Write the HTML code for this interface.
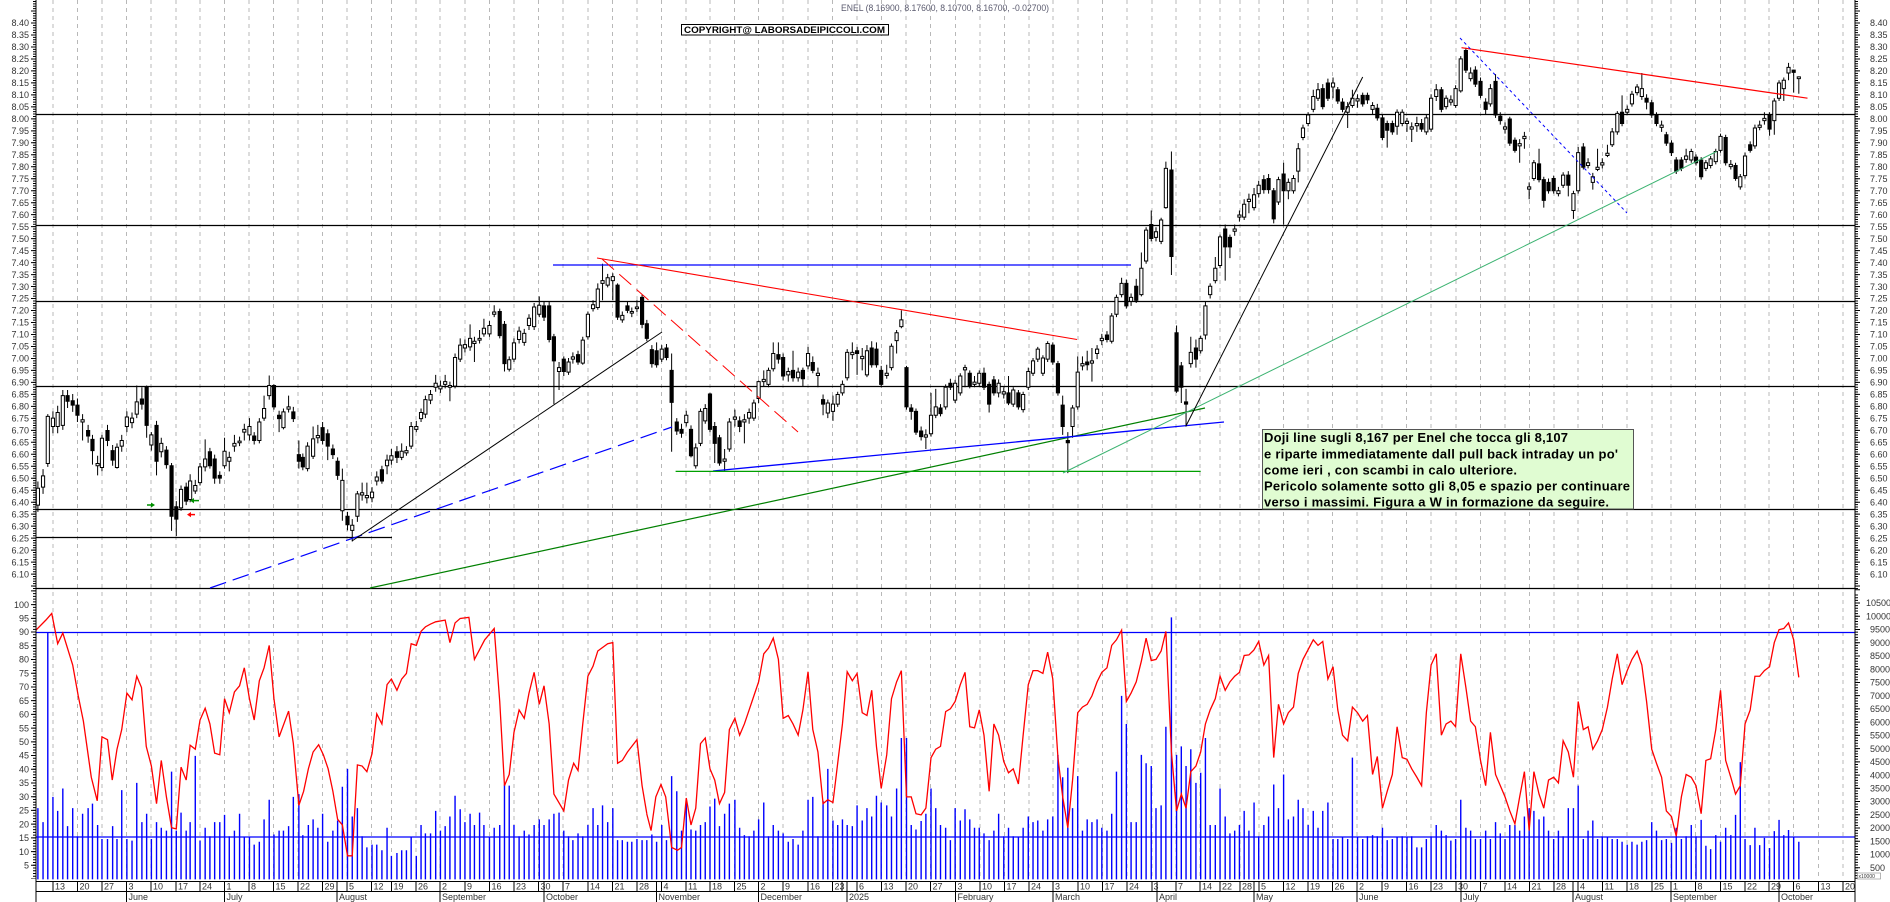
<!DOCTYPE html>
<html><head><meta charset="utf-8"><style>html,body{margin:0;padding:0;background:#fff;overflow:hidden}svg{display:block}</style></head><body>
<svg xmlns="http://www.w3.org/2000/svg" width="1890" height="902" viewBox="0 0 1890 902" font-family="'Liberation Sans', Arial, sans-serif">
<rect width="1890" height="902" fill="#fff"/>
<!-- gridlines -->
<path fill="none" stroke="#b8b8b8" stroke-width="1" stroke-dasharray="4 4" d="M53 0V879M77.5 0V879M102 0V879M126.5 0V879M151 0V879M176 0V879M200 0V879M224.5 0V879M249 0V879M273.5 0V879M298 0V879M322.5 0V879M347 0V879M371.5 0V879M391.5 0V879M416 0V879M440 0V879M465 0V879M489.5 0V879M514 0V879M538.5 0V879M563 0V879M588 0V879M612.5 0V879M637 0V879M661.5 0V879M686 0V879M710 0V879M734.5 0V879M758.5 0V879M783 0V879M808 0V879M832.5 0V879M857 0V879M881.5 0V879M906 0V879M930.5 0V879M955.5 0V879M980 0V879M1004.5 0V879M1029 0V879M1053 0V879M1078 0V879M1102.5 0V879M1127 0V879M1152 0V879M1176 0V879M1200 0V879M1220 0V879M1240 0V879M1259 0V879M1283.5 0V879M1308 0V879M1332.5 0V879M1357 0V879M1382 0V879M1406.5 0V879M1431 0V879M1456 0V879M1480.5 0V879M1505 0V879M1529.5 0V879M1554 0V879M1578 0V879M1602.5 0V879M1627 0V879M1652 0V879M1671 0V879M1695.5 0V879M1720.5 0V879M1745 0V879M1769 0V879M1793.5 0V879M1818.5 0V879M1843 0V879"/>
<!-- horizontal levels -->
<path fill="none" stroke="#000" stroke-width="1.3" d="M36 114.5H1855M36 225.5H1855M36 301.5H1855M36 386.5H1855M36 509.5H1855M36 537.5H392M36 588.5H1855"/>
<path fill="none" stroke="#0000ff" stroke-width="1.3" d="M36 632.5H1855M36 837H1855"/>

<!-- GROUP A -->
<g transform="translate(30,0) scale(0.3954,0.5612)">
<path fill="none" stroke="#0000ff" stroke-width="1.4" vector-effect="non-scaling-stroke" d="M20 1567V1440M33 1567V1465M45 1567V1128M58 1567V1420M70 1567V1445M83 1567V1405M95 1567V1472M108 1567V1440M120 1567V1490M133 1567V1450M147 1567V1440M158 1567V1432M171 1567V1470M182 1567V1495M196 1567V1495M209 1567V1472M220 1567V1495M232 1567V1408M245 1567V1495M258 1567V1498M270 1567V1395M283 1567V1465M295 1567V1450M307 1567V1495M320 1567V1465M332 1567V1475M345 1567V1480M358 1567V1375M370 1567V1480M382 1567V1448M395 1567V1480M405 1567V1465M418 1567V1347M430 1567V1498M443 1567V1475M455 1567V1490M467 1567V1465M480 1567V1465M492 1567V1452M504 1567V1490M517 1567V1480M530 1567V1450M542 1567V1492M555 1567V1492M567 1567V1505M580 1567V1500M592 1567V1460M605 1567V1425M617 1567V1487M630 1567V1480M641 1567V1480M654 1567V1472M666 1567V1420M680 1567V1415M690 1567V1488M704 1567V1470M716 1567V1460M728 1567V1475M740 1567V1450M753 1567V1500M766 1567V1480M778 1567V1462M790 1567V1402M803 1567V1370M815 1567V1455M828 1567V1440M840 1567V1490M852 1567V1510M865 1567V1505M877 1567V1505M890 1567V1515M903 1567V1475M914 1567V1525M928 1567V1520M940 1567V1515M952 1567V1515M964 1567V1492M977 1567V1525M989 1567V1470M1000 1567V1485M1013 1567V1485M1026 1567V1445M1038 1567V1480M1050 1567V1472M1062 1567V1455M1075 1567V1418M1088 1567V1442M1100 1567V1465M1113 1567V1450M1124 1567V1470M1137 1567V1448M1148 1567V1470M1162 1567V1492M1174 1567V1475M1188 1567V1470M1200 1567V1398M1212 1567V1400M1224 1567V1470M1237 1567V1490M1250 1567V1480M1262 1567V1487M1275 1567V1470M1288 1567V1460M1300 1567V1470M1313 1567V1460M1325 1567V1450M1338 1567V1448M1350 1567V1480M1362 1567V1490M1373 1567V1497M1386 1567V1485M1398 1567V1490M1411 1567V1470M1424 1567V1440M1436 1567V1470M1448 1567V1435M1461 1567V1465M1474 1567V1440M1486 1567V1497M1498 1567V1497M1511 1567V1500M1522 1567V1500M1535 1567V1495M1548 1567V1497M1560 1567V1497"/>
<polyline fill="none" stroke="#ff0000" stroke-width="1.3" vector-effect="non-scaling-stroke" points="15,1123 40,1105 55,1093 70,1147 83,1128 108,1185 122,1240 135,1285 155,1385 170,1427 182,1313 196,1318 208,1390 220,1335 232,1300 245,1235 258,1247 270,1205 282,1225 294,1330 307,1365 320,1432 332,1355 345,1420 358,1475 370,1477 382,1367 395,1390 405,1328 418,1335 430,1283 443,1262 455,1290 467,1342 480,1345 492,1245 504,1270 517,1233 530,1222 542,1190 555,1245 567,1283 580,1213 592,1190 605,1150 617,1245 630,1313 654,1267 666,1325 680,1435 692,1410 704,1370 716,1340 730,1327 742,1345 754,1370 766,1410 778,1460 790,1470 803,1525 815,1525 828,1363 840,1365 852,1375 865,1343 877,1272 890,1290 903,1220 914,1210 928,1230 940,1210 952,1200 964,1147 977,1150 989,1125 1000,1117 1013,1112 1026,1108 1050,1105 1062,1145 1075,1110 1088,1102 1110,1100 1124,1175 1150,1140 1174,1120 1188,1250 1200,1400 1212,1380 1224,1305 1237,1265 1250,1280 1262,1235 1275,1198 1288,1255 1300,1222 1313,1290 1325,1415 1350,1445 1362,1390 1375,1360 1386,1373 1398,1290 1411,1205 1424,1187 1436,1160 1461,1147 1474,1145 1486,1360 1498,1355 1511,1340 1522,1330 1535,1318 1548,1400 1560,1450"/>
<path fill="none" stroke="#000" stroke-width="1" vector-effect="non-scaling-stroke" d="M20 858V912M33 836V880M45 738V832M58 733V772M70 723V772M83 695V766M95 695V727M108 702V734M120 710V752M133 738V785M147 757V789M158 775V828M171 812V847M182 775V840M196 757V795M209 793V830M220 790V835M232 775V805M245 733V770M258 735V763M270 687V745M283 690V730M295 687V780M307 770V803M320 750V847M332 780V815M345 795V835M358 825V946M370 893V955M382 865V910M395 860V900M405 845V895M418 855V880M430 825V865M443 783V840M455 798V835M467 810V862M480 840V862M492 780V835M504 805V840M517 775V805M530 778V795M542 755V785M555 745V785M567 770V792M580 745V790M592 705V750M605 669V712M617 685V730M630 732V770M641 728V765M654 705V735M666 725V752M680 785V835M690 808V838M702 788V840M716 760V818M728 757V790M740 752V792M753 765V820M766 792V818M778 815V855M790 835V928M803 912V945M815 925V965M828 875V930M840 860V892M852 860V897M865 868V895M877 840V865M890 830V862M903 810V845M914 800V828M928 795V825M940 790V820M952 795V812M964 752V800M977 750V770M989 728V752M1000 705V745M1013 695V720M1026 668V698M1038 678V700M1050 668V692M1062 680V715M1075 630V692M1088 603V645M1100 605V628M1113 578V625M1124 600V645M1137 588V612M1148 568V600M1162 572V600M1174 544V565M1188 550V603M1200 572V662M1212 635V662M1224 603V645M1237 582V612M1250 586V616M1262 560V588M1275 540V588M1288 528V565M1300 538V572M1313 538V610M1325 595V720M1338 645V695M1350 635V670M1362 638V668M1373 628V648M1386 625V650M1398 600V650M1411 555V605M1424 535V555M1436 505V552M1448 470V535M1461 488V512M1474 487V535M1486 505V570M1498 555V575M1511 538V558M1522 548V565M1535 535V556M1548 525V585M1560 570V608"/>
<path fill="#000" stroke="#000" stroke-width="1" vector-effect="non-scaling-stroke" d="M91 705h8V715h-8ZM104 714h8V722h-8ZM116 722h8V740h-8ZM143 767h8V777h-8ZM154 783h8V803h-8ZM192 767h8V785h-8ZM205 803h8V820h-8ZM279 711h8V720h-8ZM291 689h8V758h-8ZM316 758h8V822h-8ZM341 802h8V828h-8ZM354 830h8V920h-8ZM366 903h8V925h-8ZM391 868h8V893h-8ZM451 805h8V830h-8ZM463 818h8V852h-8ZM476 847h8V852h-8ZM563 777h8V785h-8ZM613 687h8V725h-8ZM626 740h8V746h-8ZM662 734h8V746h-8ZM676 810h8V822h-8ZM686 815h8V832h-8ZM736 762h8V785h-8ZM749 773h8V795h-8ZM762 800h8V810h-8ZM774 822h8V847h-8ZM799 920h8V935h-8ZM886 837h8V857h-8ZM924 805h8V815h-8ZM1184 555h8V598h-8ZM1196 578h8V648h-8ZM1296 545h8V565h-8ZM1309 545h8V605h-8ZM1321 600h8V643h-8ZM1346 640h8V662h-8ZM1382 632h8V645h-8ZM1482 508h8V565h-8ZM1507 545h8V553h-8ZM1544 530h8V578h-8ZM1556 577h8V603h-8Z"/>
<path fill="#fff" stroke="#000" stroke-width="1" vector-effect="non-scaling-stroke" d="M16 870h8V900h-8ZM29 848h8V868h-8ZM41 742h8V826h-8ZM54 745h8V760h-8ZM66 735h8V760h-8ZM79 705h8V758h-8ZM129 748h8V752h-8ZM167 826h8V830h-8ZM178 781h8V833h-8ZM216 797h8V833h-8ZM228 785h8V795h-8ZM241 743h8V760h-8ZM254 745h8V753h-8ZM266 716h8V738h-8ZM303 775h8V793h-8ZM328 790h8V805h-8ZM378 872h8V905h-8ZM401 857h8V890h-8ZM414 865h8V875h-8ZM426 832h8V860h-8ZM439 818h8V832h-8ZM488 804h8V830h-8ZM500 815h8V822h-8ZM513 790h8V795h-8ZM526 786h8V789h-8ZM538 765h8V770h-8ZM551 760h8V775h-8ZM576 752h8V785h-8ZM588 728h8V745h-8ZM601 687h8V705h-8ZM637 734h8V762h-8ZM650 725h8V729h-8ZM698 795h8V835h-8ZM712 782h8V813h-8ZM724 776h8V780h-8ZM786 856h8V910h-8ZM811 936h8V945h-8ZM824 880h8V920h-8ZM836 878h8V882h-8ZM848 883h8V887h-8ZM861 877h8V887h-8ZM873 850h8V857h-8ZM899 820h8V830h-8ZM910 812h8V820h-8ZM936 804h8V815h-8ZM948 803h8V807h-8ZM960 760h8V795h-8ZM973 760h8V765h-8ZM985 735h8V746h-8ZM996 712h8V738h-8ZM1009 703h8V713h-8ZM1022 683h8V690h-8ZM1034 688h8V693h-8ZM1046 680h8V685h-8ZM1058 687h8V690h-8ZM1071 637h8V688h-8ZM1084 615h8V640h-8ZM1096 614h8V620h-8ZM1109 603h8V618h-8ZM1120 608h8V612h-8ZM1133 603h8V606h-8ZM1144 585h8V595h-8ZM1158 580h8V595h-8ZM1170 556h8V560h-8ZM1208 641h8V658h-8ZM1220 611h8V640h-8ZM1233 590h8V605h-8ZM1246 594h8V610h-8ZM1258 567h8V580h-8ZM1271 547h8V582h-8ZM1284 544h8V560h-8ZM1334 655h8V662h-8ZM1358 645h8V663h-8ZM1369 636h8V640h-8ZM1394 606h8V647h-8ZM1407 560h8V600h-8ZM1420 543h8V550h-8ZM1432 515h8V548h-8ZM1444 500h8V505h-8ZM1457 495h8V508h-8ZM1470 493h8V500h-8ZM1494 562h8V570h-8ZM1518 555h8V558h-8ZM1531 547h8V550h-8Z"/>
</g>

<!-- GROUP B -->
<g transform="translate(640,0) scale(0.3954,0.5612)">
<path fill="none" stroke="#0000ff" stroke-width="1.4" vector-effect="non-scaling-stroke" d="M30 1567V1487M42 1567V1500M55 1567V1470M67 1567V1497M80 1567V1383M93 1567V1410M105 1567V1480M117 1567V1425M129 1567V1478M141 1567V1480M153 1567V1470M165 1567V1465M177 1567V1437M189 1567V1423M201 1567V1472M214 1567V1450M226 1567V1432M240 1567V1425M252 1567V1475M264 1567V1488M276 1567V1490M288 1567V1480M300 1567V1460M313 1567V1430M325 1567V1490M337 1567V1470M350 1567V1480M362 1567V1485M375 1567V1500M387 1567V1495M400 1567V1505M412 1567V1480M425 1567V1425M437 1567V1420M450 1567V1490M463 1567V1427M475 1567V1370M488 1567V1462M500 1567V1470M512 1567V1460M524 1567V1470M537 1567V1472M549 1567V1435M562 1567V1462M574 1567V1440M586 1567V1455M598 1567V1418M610 1567V1430M624 1567V1435M636 1567V1455M649 1567V1405M661 1567V1315M674 1567V1315M686 1567V1470M698 1567V1478M711 1567V1463M723 1567V1450M736 1567V1405M748 1567V1440M760 1567V1470M773 1567V1475M785 1567V1497M797 1567V1440M810 1567V1462M822 1567V1442M834 1567V1460M846 1567V1475M858 1567V1475M870 1567V1485M883 1567V1497M895 1567V1480M907 1567V1450M920 1567V1490M932 1567V1475M944 1567V1490M957 1567V1492M969 1567V1475M982 1567V1455M994 1567V1465M1006 1567V1462M1019 1567V1480M1031 1567V1460M1044 1567V1455M1057 1567V1345M1069 1567V1385M1082 1567V1368M1094 1567V1440M1107 1567V1383M1119 1567V1480M1131 1567V1460M1143 1567V1465M1156 1567V1460M1168 1567V1475M1181 1567V1480M1193 1567V1450M1205 1567V1375M1218 1567V1240M1230 1567V1290M1242 1567V1465M1255 1567V1465M1268 1567V1345M1280 1567V1360M1293 1567V1365M1305 1567V1440M1318 1567V1435M1330 1567V1295M1344 1567V1100M1357 1567V1345M1369 1567V1330M1381 1567V1365M1393 1567V1335M1406 1567V1395M1418 1567V1377M1430 1567V1315M1442 1567V1470M1455 1567V1470M1467 1567V1405M1480 1567V1455M1492 1567V1485M1504 1567V1480M1516 1567V1470M1528 1567V1445M1540 1567V1480M1553 1567V1430"/>
<polyline fill="none" stroke="#ff0000" stroke-width="1.3" vector-effect="non-scaling-stroke" points="17,1450 28,1480 40,1420 53,1398 65,1420 80,1510 95,1515 105,1510 117,1422 129,1470 141,1440 153,1325 165,1315 177,1370 189,1390 201,1432 214,1412 226,1300 240,1280 252,1310 264,1290 276,1265 288,1240 300,1215 313,1165 325,1155 337,1137 350,1175 362,1280 375,1275 387,1290 400,1310 412,1265 425,1197 437,1300 450,1340 463,1432 475,1425 488,1430 500,1360 512,1290 524,1197 537,1213 549,1200 562,1270 574,1275 586,1230 598,1330 610,1405 624,1345 636,1245 649,1215 661,1195 674,1420 686,1420 698,1450 711,1452 723,1440 736,1350 748,1335 760,1330 773,1268 785,1263 797,1250 810,1220 822,1198 834,1295 846,1297 858,1265 870,1310 883,1410 895,1290 907,1310 920,1357 932,1377 944,1370 957,1397 969,1310 982,1220 994,1195 1006,1195 1019,1200 1031,1162 1044,1210 1057,1350 1069,1420 1082,1475 1094,1390 1107,1270 1119,1260 1131,1255 1143,1240 1156,1215 1168,1198 1181,1190 1193,1150 1205,1140 1218,1123 1230,1250 1242,1235 1255,1215 1268,1178 1280,1137 1293,1177 1305,1175 1318,1160 1330,1125 1344,1340 1357,1445 1369,1415 1381,1440 1393,1375 1406,1365 1418,1340 1430,1290 1442,1265 1455,1245 1467,1205 1480,1230 1492,1215 1504,1205 1516,1198 1528,1168 1540,1167 1553,1158"/>
<path fill="none" stroke="#000" stroke-width="1" vector-effect="non-scaling-stroke" d="M30 615V655M42 610V655M55 615V645M67 613V642M80 630V805M93 745V775M105 755V780M117 732V760M129 758V815M141 790V835M153 728V795M165 720V755M177 700V770M189 752V825M201 775V830M214 800V840M226 745V805M240 730V760M252 742V770M264 738V790M276 728V755M288 712V750M300 678V718M313 660V688M325 655V690M337 610V662M350 610V648M362 630V678M375 655V680M387 625V680M400 655V680M412 655V688M425 618V658M437 635V665M450 655V690M463 703V740M475 712V745M488 705V750M500 698V725M512 678V705M524 622V678M537 610V640M549 618V668M562 620V660M574 615V672M586 608V655M598 610V655M610 652V690M624 650V675M636 612V660M649 588V630M661 553V585M674 652V730M686 720V748M698 728V775M711 760V785M723 765V800M736 700V778M748 693V745M760 720V742M773 685V730M785 675V695M797 677V718M810 665V705M822 650V690M834 660V692M846 670V690M858 660V688M870 655V695M883 680V735M895 670V705M907 676V708M920 690V710M932 670V722M944 690V725M957 695V730M969 698V735M982 655V695M994 638V670M1006 618V645M1019 633V670M1031 608V645M1044 610V650M1057 643V705M1069 705V775M1082 770V843M1094 722V780M1107 635V730M1119 635V660M1131 625V660M1143 620V680M1156 615V640M1168 595V615M1181 590V610M1193 558V612M1205 525V565M1218 495V530M1230 498V550M1242 523V545M1255 497V540M1268 450V528M1280 405V470M1293 375V430M1305 405V430M1318 388V435M1330 288V372M1344 270V490M1357 580V700M1369 645V718M1381 693V760M1393 600V655M1406 605V655M1418 598V630M1430 538V605M1442 505V532M1455 458V505M1467 418V478M1480 400V500M1492 418V460M1504 400V420M1516 375V395M1528 355V392M1540 345V380M1553 335V375"/>
<path fill="#000" stroke="#000" stroke-width="1" vector-effect="non-scaling-stroke" d="M26 623h8V648h-8ZM38 625h8V650h-8ZM63 620h8V637h-8ZM76 660h8V717h-8ZM89 752h8V768h-8ZM101 765h8V772h-8ZM125 765h8V812h-8ZM173 702h8V765h-8ZM185 760h8V790h-8ZM197 780h8V825h-8ZM248 750h8V760h-8ZM346 632h8V640h-8ZM358 637h8V670h-8ZM383 660h8V673h-8ZM408 660h8V675h-8ZM433 646h8V660h-8ZM459 712h8V720h-8ZM545 625h8V630h-8ZM582 620h8V650h-8ZM594 622h8V650h-8ZM606 660h8V685h-8ZM670 655h8V725h-8ZM682 727h8V733h-8ZM694 733h8V770h-8ZM707 768h8V778h-8ZM756 727h8V737h-8ZM781 683h8V690h-8ZM830 665h8V688h-8ZM866 665h8V690h-8ZM879 685h8V720h-8ZM891 677h8V700h-8ZM928 700h8V718h-8ZM953 700h8V725h-8ZM1040 615h8V645h-8ZM1053 648h8V700h-8ZM1065 722h8V760h-8ZM1078 785h8V789h-8ZM1127 645h8V650h-8ZM1177 597h8V605h-8ZM1226 505h8V545h-8ZM1251 510h8V535h-8ZM1289 400h8V425h-8ZM1340 303h8V457h-8ZM1353 593h8V697h-8ZM1365 652h8V690h-8ZM1377 716h8V720h-8ZM1402 620h8V640h-8ZM1476 408h8V440h-8ZM1488 423h8V440h-8Z"/>
<path fill="#fff" stroke="#000" stroke-width="1" vector-effect="non-scaling-stroke" d="M51 622h8V640h-8ZM113 740h8V753h-8ZM137 798h8V830h-8ZM149 733h8V790h-8ZM161 728h8V750h-8ZM210 818h8V822h-8ZM222 752h8V800h-8ZM236 743h8V747h-8ZM260 748h8V752h-8ZM272 735h8V745h-8ZM284 718h8V745h-8ZM296 680h8V710h-8ZM309 676h8V680h-8ZM321 660h8V685h-8ZM333 630h8V657h-8ZM371 662h8V668h-8ZM396 663h8V673h-8ZM421 630h8V652h-8ZM446 665h8V669h-8ZM471 718h8V736h-8ZM484 720h8V733h-8ZM496 703h8V720h-8ZM508 685h8V700h-8ZM520 628h8V673h-8ZM533 628h8V632h-8ZM558 635h8V639h-8ZM570 625h8V668h-8ZM620 665h8V669h-8ZM632 617h8V655h-8ZM645 593h8V607h-8ZM657 570h8V582h-8ZM719 775h8V779h-8ZM732 740h8V773h-8ZM744 725h8V740h-8ZM769 690h8V725h-8ZM793 683h8V713h-8ZM806 670h8V700h-8ZM818 655h8V659h-8ZM842 681h8V685h-8ZM854 665h8V683h-8ZM903 683h8V700h-8ZM916 698h8V702h-8ZM940 695h8V720h-8ZM965 703h8V730h-8ZM978 662h8V690h-8ZM990 643h8V665h-8ZM1002 622h8V640h-8ZM1015 638h8V665h-8ZM1027 612h8V640h-8ZM1090 727h8V760h-8ZM1103 663h8V725h-8ZM1115 648h8V652h-8ZM1139 643h8V647h-8ZM1152 622h8V630h-8ZM1164 603h8V607h-8ZM1189 563h8V608h-8ZM1201 530h8V560h-8ZM1214 505h8V525h-8ZM1238 530h8V537h-8ZM1264 478h8V525h-8ZM1276 410h8V465h-8ZM1301 413h8V423h-8ZM1314 392h8V430h-8ZM1326 300h8V370h-8ZM1389 628h8V648h-8ZM1414 603h8V625h-8ZM1426 545h8V597h-8ZM1438 510h8V525h-8ZM1451 478h8V500h-8ZM1463 422h8V473h-8ZM1500 408h8V412h-8ZM1512 383h8V387h-8ZM1524 364h8V387h-8ZM1536 355h8V359h-8ZM1549 347h8V370h-8Z"/>
</g>

<!-- GROUP C -->
<g transform="translate(1250,0) scale(0.3954,0.5612)">
<path fill="none" stroke="#0000ff" stroke-width="1.4" vector-effect="non-scaling-stroke" d="M22 1567V1490M35 1567V1470M47 1567V1455M60 1567V1398M72 1567V1440M85 1567V1380M97 1567V1460M110 1567V1455M122 1567V1425M134 1567V1440M147 1567V1470M160 1567V1445M172 1567V1475M184 1567V1445M197 1567V1430M210 1567V1495M222 1567V1495M234 1567V1492M247 1567V1495M259 1567V1350M272 1567V1492M285 1567V1495M297 1567V1490M310 1567V1488M322 1567V1490M335 1567V1475M347 1567V1497M360 1567V1495M372 1567V1492M385 1567V1490M397 1567V1492M409 1567V1490M422 1567V1510M434 1567V1510M446 1567V1495M458 1567V1490M471 1567V1470M484 1567V1480M496 1567V1488M508 1567V1498M520 1567V1495M533 1567V1425M546 1567V1475M558 1567V1480M570 1567V1495M583 1567V1495M596 1567V1480M608 1567V1495M621 1567V1465M633 1567V1485M645 1567V1495M657 1567V1470M670 1567V1470M682 1567V1480M694 1567V1455M706 1567V1440M718 1567V1445M731 1567V1460M743 1567V1455M755 1567V1480M768 1567V1495M780 1567V1480M792 1567V1490M805 1567V1440M818 1567V1440M830 1567V1400M843 1567V1495M855 1567V1480M867 1567V1462M879 1567V1495M891 1567V1490M904 1567V1492M916 1567V1495M929 1567V1495M941 1567V1500M954 1567V1505M966 1567V1500M979 1567V1505M991 1567V1500M1003 1567V1497M1016 1567V1465M1028 1567V1480M1041 1567V1497M1053 1567V1495M1066 1567V1502M1078 1567V1475M1091 1567V1495M1103 1567V1490M1116 1567V1470M1128 1567V1490M1141 1567V1461M1153 1567V1507M1165 1567V1513M1178 1567V1488M1190 1567V1500M1203 1567V1475M1216 1567V1488M1228 1567V1452M1240 1567V1358M1252 1567V1495M1265 1567V1506M1277 1567V1475M1289 1567V1506M1301 1567V1493M1314 1567V1511M1326 1567V1481M1338 1567V1461M1350 1567V1488M1362 1567V1479M1375 1567V1491M1388 1567V1500"/>
<polyline fill="none" stroke="#ff0000" stroke-width="1.3" vector-effect="non-scaling-stroke" points="10,1158 22,1143 35,1185 47,1168 60,1350 72,1255 85,1290 97,1270 110,1260 122,1200 134,1175 160,1140 172,1150 184,1143 197,1210 210,1188 222,1265 234,1310 247,1320 259,1260 272,1270 285,1285 297,1275 310,1380 322,1348 335,1440 347,1410 360,1380 372,1295 385,1350 397,1353 409,1370 422,1385 434,1400 446,1270 458,1185 471,1165 484,1310 496,1290 508,1285 520,1295 533,1165 546,1225 558,1285 570,1295 583,1355 596,1400 608,1305 621,1380 633,1400 645,1420 657,1445 670,1468 682,1420 694,1375 706,1480 718,1375 731,1415 743,1440 755,1390 768,1385 780,1395 792,1320 805,1340 818,1385 830,1250 843,1300 855,1295 867,1335 879,1320 891,1300 904,1260 916,1210 929,1165 941,1220 954,1195 966,1175 979,1160 991,1185 1003,1250 1016,1335 1028,1360 1041,1385 1053,1445 1066,1455 1078,1490 1091,1420 1103,1380 1116,1385 1128,1400 1141,1450 1153,1355 1165,1352 1178,1300 1190,1230 1203,1355 1216,1385 1228,1415 1240,1400 1252,1290 1265,1265 1277,1205 1289,1205 1301,1195 1314,1188 1326,1145 1338,1122 1350,1120 1362,1110 1375,1140 1388,1207"/>
<path fill="none" stroke="#000" stroke-width="1" vector-effect="non-scaling-stroke" d="M22 322V352M35 312V345M47 310V345M60 335V398M72 315V365M85 290V400M97 318V355M110 312V345M122 255V325M134 222V250M147 200V225M160 160V200M172 148V180M184 150V195M197 140V180M210 138V175M222 155V185M234 175V200M247 182V228M259 160V192M272 168V192M285 165V190M297 165V185M310 182V205M322 185V215M335 205V250M347 215V263M360 215V240M372 195V240M385 195V225M397 210V235M409 218V253M422 208V235M434 212V235M446 205V240M458 168V235M471 150V180M484 155V200M496 170V195M508 170V188M520 152V192M533 100V165M546 85V130M558 120V145M570 118V155M583 138V175M596 175V205M608 150V190M621 132V210M633 200V222M645 218V238M657 208V260M670 245V272M682 248V290M694 235V265M706 325V355M718 285V322M731 265V325M743 315V370M755 318V345M768 313V345M780 333V350M792 307V335M805 305V350M818 340V390M830 262V345M843 255V302M855 282V300M867 308V338M879 265V305M891 282V300M904 258V280M916 228V262M929 198V240M941 170V225M954 188V205M966 162V190M979 150V170M991 130V178M1003 168V195M1016 178V210M1028 200V225M1041 215V235M1053 235V260M1066 250V278M1078 280V310M1091 280V305M1103 265V290M1116 265V290M1128 275V295M1141 280V320M1153 285V305M1165 278V300M1178 265V293M1190 238V272M1203 240V295M1216 285V302M1228 290V322M1240 310V338M1252 272V318M1265 252V272M1277 222V265M1289 215V232M1301 200V222M1314 200V242M1326 175V240M1338 143V180M1350 138V180M1362 112V143M1375 124V165M1388 136V167"/>
<path fill="#000" stroke="#000" stroke-width="1" vector-effect="non-scaling-stroke" d="M31 320h8V338h-8ZM43 318h8V338h-8ZM56 340h8V390h-8ZM81 310h8V340h-8ZM180 158h8V190h-8ZM193 148h8V175h-8ZM218 160h8V180h-8ZM230 182h8V195h-8ZM281 170h8V185h-8ZM293 170h8V178h-8ZM318 193h8V210h-8ZM331 210h8V245h-8ZM343 220h8V232h-8ZM356 220h8V235h-8ZM430 220h8V230h-8ZM480 160h8V195h-8ZM542 90h8V125h-8ZM566 125h8V150h-8ZM579 145h8V170h-8ZM592 182h8V195h-8ZM617 145h8V205h-8ZM629 207h8V215h-8ZM653 212h8V255h-8ZM666 250h8V268h-8ZM727 292h8V320h-8ZM739 320h8V357h-8ZM751 325h8V340h-8ZM764 318h8V340h-8ZM801 312h8V330h-8ZM839 262h8V298h-8ZM937 200h8V220h-8ZM999 175h8V182h-8ZM1012 183h8V205h-8ZM1024 205h8V220h-8ZM1049 240h8V255h-8ZM1062 255h8V272h-8ZM1074 285h8V305h-8ZM1087 285h8V300h-8ZM1124 280h8V290h-8ZM1137 285h8V315h-8ZM1199 245h8V290h-8ZM1224 295h8V318h-8ZM1261 258h8V268h-8ZM1310 205h8V230h-8ZM1371 125h8V129h-8Z"/>
<path fill="#fff" stroke="#000" stroke-width="1" vector-effect="non-scaling-stroke" d="M18 330h8V345h-8ZM68 320h8V360h-8ZM93 325h8V340h-8ZM106 318h8V340h-8ZM118 265h8V305h-8ZM130 228h8V245h-8ZM143 205h8V220h-8ZM156 172h8V195h-8ZM168 160h8V175h-8ZM206 148h8V155h-8ZM243 190h8V200h-8ZM255 175h8V188h-8ZM268 176h8V180h-8ZM306 188h8V195h-8ZM368 200h8V225h-8ZM381 200h8V220h-8ZM393 216h8V220h-8ZM405 226h8V230h-8ZM418 220h8V224h-8ZM442 210h8V235h-8ZM454 175h8V230h-8ZM467 160h8V172h-8ZM492 175h8V190h-8ZM504 178h8V182h-8ZM516 158h8V188h-8ZM529 105h8V162h-8ZM554 130h8V140h-8ZM604 158h8V185h-8ZM641 226h8V230h-8ZM678 256h8V260h-8ZM690 243h8V247h-8ZM702 333h8V337h-8ZM714 290h8V318h-8ZM776 340h8V345h-8ZM788 312h8V330h-8ZM814 345h8V375h-8ZM826 272h8V340h-8ZM851 290h8V295h-8ZM863 315h8V325h-8ZM875 298h8V302h-8ZM887 290h8V294h-8ZM900 273h8V277h-8ZM912 235h8V258h-8ZM925 202h8V235h-8ZM950 195h8V200h-8ZM962 168h8V185h-8ZM975 155h8V165h-8ZM987 158h8V172h-8ZM1037 223h8V227h-8ZM1099 278h8V284h-8ZM1112 270h8V285h-8ZM1149 290h8V300h-8ZM1161 283h8V295h-8ZM1174 270h8V288h-8ZM1186 243h8V268h-8ZM1212 293h8V297h-8ZM1236 315h8V333h-8ZM1248 278h8V313h-8ZM1273 228h8V260h-8ZM1285 223h8V227h-8ZM1297 211h8V215h-8ZM1322 180h8V215h-8ZM1334 148h8V175h-8ZM1346 143h8V158h-8ZM1358 120h8V130h-8ZM1384 137h8V140h-8Z"/>
</g>

<!-- trend lines -->
<g fill="none">
<path d="M553 265H1131" stroke="#0000ff" stroke-width="1.2"/>
<path d="M597 258L1077 339.5" stroke="#ff0000" stroke-width="1.1"/>
<path d="M602 259L798 432" stroke="#ff0000" stroke-width="1" stroke-dasharray="16 7"/>
<path d="M210 588L672 427" stroke="#0000ff" stroke-width="1.2" stroke-dasharray="17 7"/>
<path d="M352 541L662 332" stroke="#000" stroke-width="1"/>
<path d="M370 588L1205 408" stroke="#008000" stroke-width="1.2"/>
<path d="M713 471L1224 422" stroke="#0000ff" stroke-width="1.3"/>
<path d="M675.6 471.4H1200.7" stroke="#00a000" stroke-width="1.2"/>
<path d="M1063 473L1716.6 151.5" stroke="#3cb371" stroke-width="1"/>
<path d="M1185.7 426.5L1362.7 77" stroke="#000" stroke-width="1"/>
<path d="M1461.5 47.7L1807.5 98.2" stroke="#ff0000" stroke-width="1.2"/>
<path d="M1460 38L1627 213" stroke="#0000ff" stroke-width="1" stroke-dasharray="3 3"/>
</g>
<!-- arrows -->
<path d="M147 505H152" stroke="#009000" stroke-width="1.5"/><path d="M151 502.5L155 505L151 507.5Z" fill="#009000"/>
<path d="M190 514.6H195" stroke="#ff0000" stroke-width="1.5"/><path d="M191 512L187 514.6L191 517.2Z" fill="#ff0000"/>
<path d="M193 500.6H199" stroke="#009000" stroke-width="1.5"/><path d="M194 498L190 500.6L194 503.2Z" fill="#009000"/>

<!-- axes -->
<path d="M36 0V902M1855 0V902M36 881.5H1855M36 891.5H1855" stroke="#000" stroke-width="1" fill="none"/>
<!-- rulers -->
<g stroke="#000" fill="none">
<path d="M34.5 0.94V589" stroke-width="3" stroke-dasharray="1 1.396"/>
<path d="M33.5 10.52V589" stroke-width="5" stroke-dasharray="1 10.98"/>
<path d="M34.5 590.4V879" stroke-width="3" stroke-dasharray="1 1.744"/>
<path d="M33.5 590.4V879" stroke-width="5" stroke-dasharray="1 12.72"/>
<path d="M1856.5 0.94V589" stroke-width="3" stroke-dasharray="1 1.396"/>
<path d="M1857.5 10.52V589" stroke-width="5" stroke-dasharray="1 10.98"/>
<path d="M1856.5 594.56V879" stroke-width="3" stroke-dasharray="1 1.647"/>
<path d="M1857.5 589.3V879" stroke-width="5" stroke-dasharray="1 12.235"/>
</g>
<!-- date ticks -->
<path stroke="#000" stroke-width="1" fill="none" d="M53 881V891M77.5 881V891M102 881V891M126.5 881V891M151 881V891M176 881V891M200 881V891M224.5 881V891M249 881V891M273.5 881V891M298 881V891M322.5 881V891M347 881V891M371.5 881V891M391.5 881V891M416 881V891M440 881V891M465 881V891M489.5 881V891M514 881V891M538.5 881V891M563 881V891M588 881V891M612.5 881V891M637 881V891M661.5 881V891M686 881V891M710 881V891M734.5 881V891M758.5 881V891M783 881V891M808 881V891M832.5 881V891M842 881V891M857 881V891M881.5 881V891M906 881V891M930.5 881V891M955.5 881V891M980 881V891M1004.5 881V891M1029 881V891M1053 881V891M1078 881V891M1102.5 881V891M1127 881V891M1152 881V891M1176 881V891M1200 881V891M1220 881V891M1240 881V891M1259 881V891M1283.5 881V891M1308 881V891M1332.5 881V891M1357 881V891M1382 881V891M1406.5 881V891M1431 881V891M1456 881V891M1480.5 881V891M1505 881V891M1529.5 881V891M1554 881V891M1578 881V891M1602.5 881V891M1627 881V891M1652 881V891M1671 881V891M1695.5 881V891M1720.5 881V891M1745 881V891M1769 881V891M1793.5 881V891M1818.5 881V891M1843 881V891M126.5 881V902M224.5 881V902M337 881V902M440 881V902M544 881V902M656.5 881V902M758.5 881V902M847 881V902M955.5 881V902M1053 881V902M1157 881V902M1254 881V902M1357 881V902M1461 881V902M1573 881V902M1671 881V902M1779 881V902"/>

<g font-size="9" fill="#333">
<text x="55" y="889.5">13</text><text x="79.5" y="889.5">20</text><text x="104" y="889.5">27</text><text x="128.5" y="889.5">3</text><text x="153" y="889.5">10</text><text x="178" y="889.5">17</text><text x="202" y="889.5">24</text><text x="226.5" y="889.5">1</text><text x="251" y="889.5">8</text><text x="275.5" y="889.5">15</text><text x="300" y="889.5">22</text><text x="324.5" y="889.5">29</text><text x="349" y="889.5">5</text><text x="373.5" y="889.5">12</text><text x="393.5" y="889.5">19</text><text x="418" y="889.5">26</text><text x="442" y="889.5">2</text><text x="467" y="889.5">9</text><text x="491.5" y="889.5">16</text><text x="516" y="889.5">23</text><text x="540.5" y="889.5">30</text><text x="565" y="889.5">7</text><text x="590" y="889.5">14</text><text x="614.5" y="889.5">21</text><text x="639" y="889.5">28</text><text x="663.5" y="889.5">4</text><text x="688" y="889.5">11</text><text x="712" y="889.5">18</text><text x="736.5" y="889.5">25</text><text x="760.5" y="889.5">2</text><text x="785" y="889.5">9</text><text x="810" y="889.5">16</text><text x="834.5" y="889.5">23</text><text x="859" y="889.5">6</text><text x="883.5" y="889.5">13</text><text x="908" y="889.5">20</text><text x="932.5" y="889.5">27</text><text x="957.5" y="889.5">3</text><text x="982" y="889.5">10</text><text x="1006.5" y="889.5">17</text><text x="1031" y="889.5">24</text><text x="1055" y="889.5">3</text><text x="1080" y="889.5">10</text><text x="1104.5" y="889.5">17</text><text x="1129" y="889.5">24</text><text x="1153.5" y="889.5">3</text><text x="1178" y="889.5">7</text><text x="1202" y="889.5">14</text><text x="1222" y="889.5">22</text><text x="1242" y="889.5">28</text><text x="1261" y="889.5">5</text><text x="1285.5" y="889.5">12</text><text x="1310" y="889.5">19</text><text x="1334.5" y="889.5">26</text><text x="1359" y="889.5">2</text><text x="1384" y="889.5">9</text><text x="1408.5" y="889.5">16</text><text x="1433" y="889.5">23</text><text x="1458" y="889.5">30</text><text x="1482.5" y="889.5">7</text><text x="1507" y="889.5">14</text><text x="1531.5" y="889.5">21</text><text x="1556" y="889.5">28</text><text x="1580" y="889.5">4</text><text x="1604.5" y="889.5">11</text><text x="1629" y="889.5">18</text><text x="1654" y="889.5">25</text><text x="1673" y="889.5">1</text><text x="1697.5" y="889.5">8</text><text x="1722.5" y="889.5">15</text><text x="1747" y="889.5">22</text><text x="1771" y="889.5">29</text><text x="1795.5" y="889.5">6</text><text x="1820.5" y="889.5">13</text><text x="1845" y="889.5">20</text>
<text x="128.5" y="900">June</text><text x="226.5" y="900">July</text><text x="339" y="900">August</text><text x="442" y="900">September</text><text x="546" y="900">October</text><text x="658.5" y="900">November</text><text x="760.5" y="900">December</text><text x="849" y="900">2025</text><text x="957.5" y="900">February</text><text x="1055" y="900">March</text><text x="1159" y="900">April</text><text x="1256" y="900">May</text><text x="1359" y="900">June</text><text x="1463" y="900">July</text><text x="1575" y="900">August</text><text x="1673" y="900">September</text><text x="1781" y="900">October</text>
</g>

<!-- left price labels -->
<g font-size="9" fill="#333" text-anchor="end">
<text x="29" y="26.2">8.40</text><text x="29" y="38.2">8.35</text><text x="29" y="50.2">8.30</text><text x="29" y="62.1">8.25</text><text x="29" y="74.1">8.20</text><text x="29" y="86.1">8.15</text><text x="29" y="98.1">8.10</text><text x="29" y="110.1">8.05</text><text x="29" y="122">8.00</text><text x="29" y="134">7.95</text><text x="29" y="146">7.90</text><text x="29" y="158">7.85</text><text x="29" y="170">7.80</text><text x="29" y="181.9">7.75</text><text x="29" y="193.9">7.70</text><text x="29" y="205.9">7.65</text><text x="29" y="217.9">7.60</text><text x="29" y="229.9">7.55</text><text x="29" y="241.8">7.50</text><text x="29" y="253.8">7.45</text><text x="29" y="265.8">7.40</text><text x="29" y="277.8">7.35</text><text x="29" y="289.8">7.30</text><text x="29" y="301.7">7.25</text><text x="29" y="313.7">7.20</text><text x="29" y="325.7">7.15</text><text x="29" y="337.7">7.10</text><text x="29" y="349.7">7.05</text><text x="29" y="361.6">7.00</text><text x="29" y="373.6">6.95</text><text x="29" y="385.6">6.90</text><text x="29" y="397.6">6.85</text><text x="29" y="409.6">6.80</text><text x="29" y="421.5">6.75</text><text x="29" y="433.5">6.70</text><text x="29" y="445.5">6.65</text><text x="29" y="457.5">6.60</text><text x="29" y="469.5">6.55</text><text x="29" y="481.4">6.50</text><text x="29" y="493.4">6.45</text><text x="29" y="505.4">6.40</text><text x="29" y="517.4">6.35</text><text x="29" y="529.4">6.30</text><text x="29" y="541.3">6.25</text><text x="29" y="553.3">6.20</text><text x="29" y="565.3">6.15</text><text x="29" y="577.3">6.10</text>
<text x="29" y="607.8">100</text><text x="29" y="621.5">95</text><text x="29" y="635.2">90</text><text x="29" y="649">85</text><text x="29" y="662.7">80</text><text x="29" y="676.4">75</text><text x="29" y="690.1">70</text><text x="29" y="703.8">65</text><text x="29" y="717.6">60</text><text x="29" y="731.3">55</text><text x="29" y="745">50</text><text x="29" y="758.7">45</text><text x="29" y="772.4">40</text><text x="29" y="786.2">35</text><text x="29" y="799.9">30</text><text x="29" y="813.6">25</text><text x="29" y="827.3">20</text><text x="29" y="841">15</text><text x="29" y="854.8">10</text><text x="29" y="868.5">5</text>
</g>
<!-- right labels -->
<g font-size="9" fill="#333">
<text x="1870" y="26.2">8.40</text><text x="1870" y="38.2">8.35</text><text x="1870" y="50.2">8.30</text><text x="1870" y="62.1">8.25</text><text x="1870" y="74.1">8.20</text><text x="1870" y="86.1">8.15</text><text x="1870" y="98.1">8.10</text><text x="1870" y="110.1">8.05</text><text x="1870" y="122">8.00</text><text x="1870" y="134">7.95</text><text x="1870" y="146">7.90</text><text x="1870" y="158">7.85</text><text x="1870" y="170">7.80</text><text x="1870" y="181.9">7.75</text><text x="1870" y="193.9">7.70</text><text x="1870" y="205.9">7.65</text><text x="1870" y="217.9">7.60</text><text x="1870" y="229.9">7.55</text><text x="1870" y="241.8">7.50</text><text x="1870" y="253.8">7.45</text><text x="1870" y="265.8">7.40</text><text x="1870" y="277.8">7.35</text><text x="1870" y="289.8">7.30</text><text x="1870" y="301.7">7.25</text><text x="1870" y="313.7">7.20</text><text x="1870" y="325.7">7.15</text><text x="1870" y="337.7">7.10</text><text x="1870" y="349.7">7.05</text><text x="1870" y="361.6">7.00</text><text x="1870" y="373.6">6.95</text><text x="1870" y="385.6">6.90</text><text x="1870" y="397.6">6.85</text><text x="1870" y="409.6">6.80</text><text x="1870" y="421.5">6.75</text><text x="1870" y="433.5">6.70</text><text x="1870" y="445.5">6.65</text><text x="1870" y="457.5">6.60</text><text x="1870" y="469.5">6.55</text><text x="1870" y="481.4">6.50</text><text x="1870" y="493.4">6.45</text><text x="1870" y="505.4">6.40</text><text x="1870" y="517.4">6.35</text><text x="1870" y="529.4">6.30</text><text x="1870" y="541.3">6.25</text><text x="1870" y="553.3">6.20</text><text x="1870" y="565.3">6.15</text><text x="1870" y="577.3">6.10</text>
<text x="1866" y="606.2">10500</text><text x="1866" y="619.4">10000</text><text x="1870" y="632.7">9500</text><text x="1870" y="645.9">9000</text><text x="1870" y="659.1">8500</text><text x="1870" y="672.4">8000</text><text x="1870" y="685.6">7500</text><text x="1870" y="698.8">7000</text><text x="1870" y="712.1">6500</text><text x="1870" y="725.3">6000</text><text x="1870" y="738.6">5500</text><text x="1870" y="751.8">5000</text><text x="1870" y="765">4500</text><text x="1870" y="778.3">4000</text><text x="1870" y="791.5">3500</text><text x="1870" y="804.7">3000</text><text x="1870" y="818">2500</text><text x="1870" y="831.2">2000</text><text x="1870" y="844.4">1500</text><text x="1870" y="857.7">1000</text><text x="1870" y="870.9">500</text>
</g>
<rect x="1857.5" y="873" width="23" height="6" fill="#fff" stroke="#888" stroke-width="0.6"/>
<text x="1858.5" y="878" font-size="5" fill="#333">x10000</text>

<!-- title & copyright -->
<text x="841" y="11" font-size="9" fill="#5a5a6e" textLength="208" lengthAdjust="spacingAndGlyphs">ENEL (8.16900, 8.17600, 8.10700, 8.16700, -0.02700)</text>
<rect x="681.5" y="24.5" width="207" height="10.5" fill="#fff" stroke="#000" stroke-width="1"/>
<text x="684" y="33" font-size="9" font-weight="bold" fill="#000" textLength="201" lengthAdjust="spacingAndGlyphs">COPYRIGHT@ LABORSADEIPICCOLI.COM</text>

<!-- comment box -->
<rect x="1262.5" y="429.5" width="371" height="79.5" fill="#e0fcd2" stroke="#555" stroke-width="1"/>
<g font-size="13" font-weight="bold" fill="#000">
<text x="1264" y="442.2" textLength="304" lengthAdjust="spacing">Doji line sugli 8,167 per Enel che tocca gli 8,107</text>
<text x="1264" y="458.5" textLength="354" lengthAdjust="spacing">e riparte immediatamente dall pull back intraday un po'</text>
<text x="1264" y="474.3" textLength="253" lengthAdjust="spacing">come ieri , con scambi in calo ulteriore.</text>
<text x="1264" y="490.5" textLength="366" lengthAdjust="spacing">Pericolo solamente sotto gli 8,05 e spazio per continuare</text>
<text x="1264" y="506.3" textLength="345" lengthAdjust="spacing">verso i massimi. Figura a W in formazione da seguire.</text>
</g>
</svg>
</body></html>
